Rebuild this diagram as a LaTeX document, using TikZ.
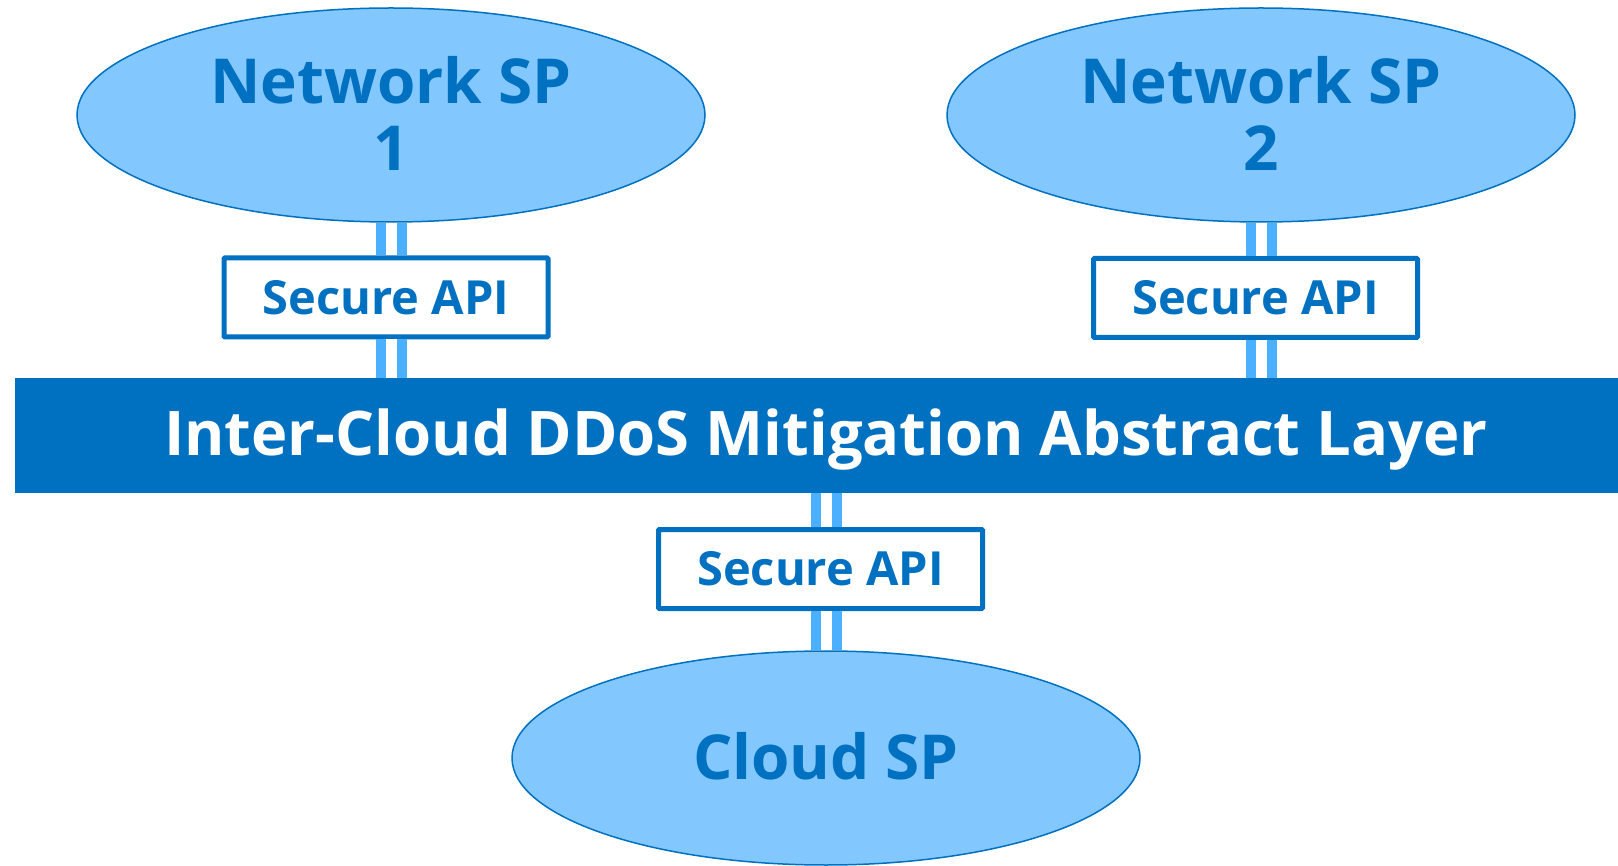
\documentclass[tikz,border=0pt]{standalone}
\usepackage{fontspec}
\setmainfont{Open Sans}
\usetikzlibrary{shapes.geometric,calc}
\definecolor{dblue}{HTML}{0070C0}
\definecolor{lblue}{HTML}{82C8FF}
\definecolor{cblue}{HTML}{4AB0FF}
\tikzset{
  x=1pt,y=-1pt,
  sp/.style={ellipse,draw=dblue,line width=1.5pt,fill=lblue,minimum width=628pt,minimum height=214pt,inner sep=0pt,
    text=dblue,font=\bfseries\fontsize{62}{67}\selectfont,align=center},
  spt/.style={text=dblue,font=\bfseries\fontsize{62}{67}\selectfont,align=center,inner sep=0pt},
  api/.style={rectangle,draw=dblue,line width=5pt,fill=white,rounded corners=1pt,minimum width=324pt,minimum height=79pt,
    text=dblue,font=\bfseries\fontsize{47}{52}\selectfont,inner sep=0pt},
  link/.style={draw=cblue,line width=10pt,double=white,double distance=11pt},
  bandstyle/.style={rectangle,fill=dblue,minimum width=1603pt,minimum height=115pt,inner sep=0pt},
  bandtext/.style={text=white,font=\bfseries\fontsize{61.5}{66}\selectfont,inner sep=0pt}
}
\begin{document}
\begin{tikzpicture}
\useasboundingbox (0,0) rectangle (1618,866);
\node[sp] (n1) at (391,115) {};
\node[spt] (n1t) at (391,113) {Network SP\\1};
\node[sp] (n2) at (1261,115) {};
\node[spt] (n2t) at (1261,113) {Network SP\\2};
\node[sp] (c) at (826,758) {};
\node[spt] (ct) at (826,756) {Cloud SP};
\node[bandstyle] (band) at (816.5,435.5) {};
\node[bandtext] (bt) at (826,440) {Inter-Cloud DDoS Mitigation Abstract Layer};
\node[api] (a1) at (386,297.5) {Secure API};
\node[api] (a2) at (1255.5,298) {Secure API};
\node[api] (a3) at (820.5,569) {Secure API};
\draw[link] (n1.south) -- (n1.south |- a1.north);
\draw[link] (n1.south |- a1.south) -- (n1.south |- band.north);
\draw[link] (n2.south) -- (n2.south |- a2.north);
\draw[link] (n2.south |- a2.south) -- (n2.south |- band.north);
\draw[link] (c.north |- band.south) -- (c.north |- a3.north);
\draw[link] (c.north |- a3.south) -- (c.north);
\end{tikzpicture}
\end{document}
